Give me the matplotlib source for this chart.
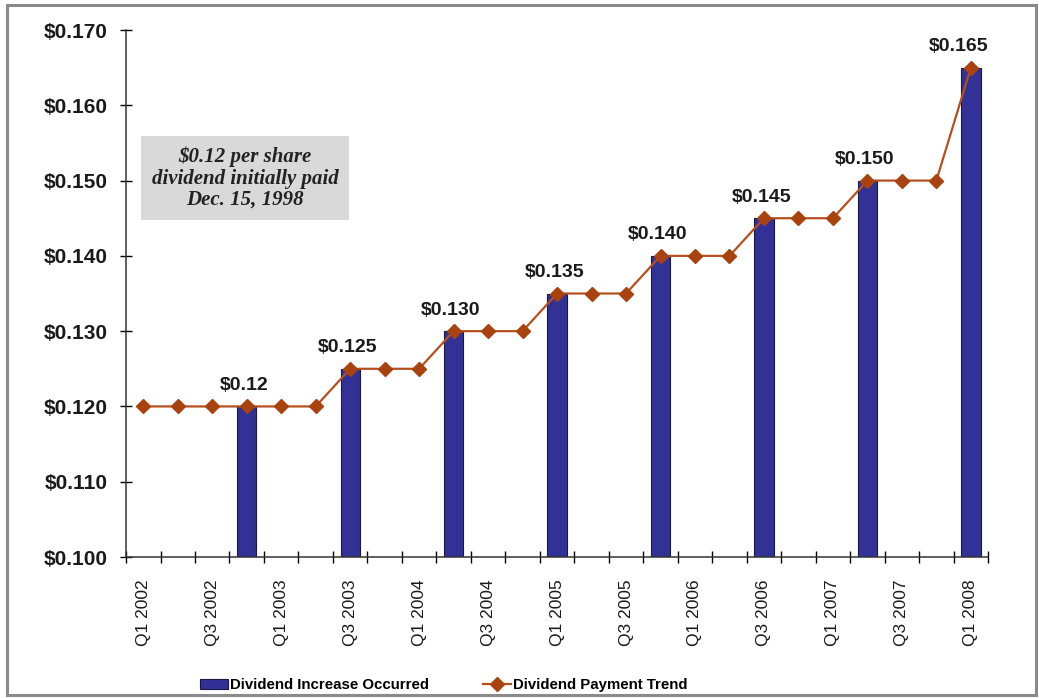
import matplotlib.pyplot as plt
from matplotlib.patches import Rectangle

# quarterly dividend per share, Q1 2002 .. Q1 2008
quarters = [f"Q{q} {y}" for y in range(2002, 2009) for q in (1, 2, 3, 4)][:25]
trend = [0.120, 0.120, 0.120, 0.120, 0.120, 0.120,
         0.125, 0.125, 0.125,
         0.130, 0.130, 0.130,
         0.135, 0.135, 0.135,
         0.140, 0.140, 0.140,
         0.145, 0.145, 0.145,
         0.150, 0.150, 0.150,
         0.165]
# quarters where the dividend was raised
increase_idx = [3, 6, 9, 12, 15, 18, 21, 24]
increase_vals = [0.120, 0.125, 0.130, 0.135, 0.140, 0.145, 0.150, 0.165]
increase_labels = ["$0.12", "$0.125", "$0.130", "$0.135", "$0.140", "$0.145", "$0.150", "$0.165"]
yticks = [0.100, 0.110, 0.120, 0.130, 0.140, 0.150, 0.160, 0.170]

plt.rcParams['font.family'] = ['Liberation Sans', 'DejaVu Sans']

fig = plt.figure(figsize=(10.39, 6.98), dpi=100)
ax = fig.add_axes([0.1213, 0.202, 0.8297, 0.755])

bar_color = '#323296'
line_color = '#b5501e'
marker_color = '#a8420f'

bars = ax.bar(increase_idx, [v - 0.100 for v in increase_vals], bottom=0.100,
              width=0.56, color=bar_color, edgecolor='#1a1a40', linewidth=0.8,
              zorder=2, label='Dividend Increase Occurred')
line, = ax.plot(range(len(trend)), trend, color=line_color, linewidth=1.6,
                marker='D', markersize=7, markerfacecolor=marker_color,
                markeredgecolor=marker_color, zorder=3,
                label='Dividend Payment Trend')

for i, v, s in zip(increase_idx, increase_vals, increase_labels):
    # last label is nudged left so it stays inside the plot
    dx = -9 if i == increase_idx[-1] else -2
    ax.annotate(s, (i, v), xytext=(dx, 9), textcoords='offset points',
                ha='center', va='bottom', fontsize=14, fontweight='bold',
                color='#1a1a1a')

ax.set_xlim(-0.5, len(trend) - 0.5)
ax.set_ylim(0.100, 0.170)
ax.set_yticks(yticks)
ax.set_yticklabels([f"${v:.3f}" for v in yticks], fontsize=15,
                   fontweight='bold', color='#1a1a1a')

# tick marks sit on the category boundaries, labels on every other quarter
ax.set_xticks([i - 0.5 for i in range(len(trend) + 1)])
ax.set_xticklabels([])
ax.set_xticks(range(0, len(trend), 2), minor=True)
ax.set_xticklabels(quarters[::2], minor=True, rotation=90, fontsize=12.5,
                   color='#1a1a1a')
ax.tick_params(axis='x', which='major', direction='inout', length=8, width=1)
ax.tick_params(axis='x', which='minor', length=0, pad=16)
ax.tick_params(axis='y', direction='inout', length=9, width=1, pad=9)

for side in ('top', 'right'):
    ax.spines[side].set_visible(False)
for side in ('left', 'bottom'):
    ax.spines[side].set_linewidth(1.1)
    ax.spines[side].set_color('#333333')

ax.text(2.95, 0.1503, "$0.12 per share\ndividend initially paid\nDec. 15, 1998",
        ha='center', va='center', fontsize=15, fontstyle='italic',
        fontweight='bold', family='Liberation Serif', color='#222222',
        linespacing=1.1,
        bbox=dict(boxstyle='square,pad=0.5', facecolor='#d9d9d9',
                  edgecolor='none'))

fig.legend(handles=[bars, line], loc='center', bbox_to_anchor=(0.427, 0.018),
           ncol=2, frameon=False, handlelength=1.85, handleheight=0.65,
           handletextpad=0.15, columnspacing=3.6,
           prop={'size': 10.8, 'weight': 'bold'})

fig.patches.append(Rectangle((0.007, 0.004), 0.99, 0.989, transform=fig.transFigure,
                             fill=False, edgecolor='#8a8a8a', linewidth=2.2))

fig.savefig('out.png', dpi=100)
